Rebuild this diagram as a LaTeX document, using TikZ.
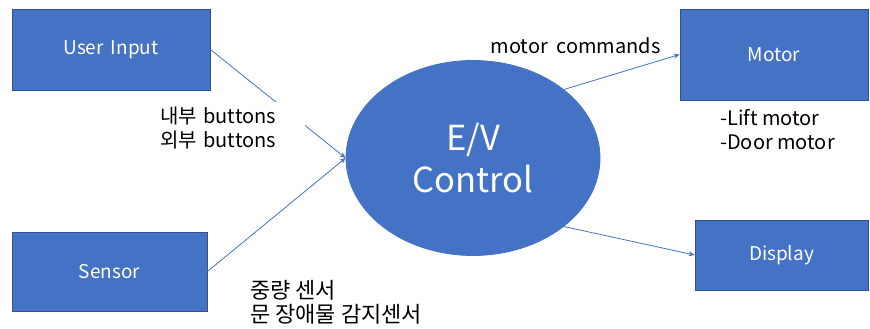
\documentclass[tikz,border=0pt]{standalone}
\usepackage{fontspec}
\setmainfont{Noto Sans CJK KR}
\usetikzlibrary{shapes.geometric,arrows.meta}
\definecolor{ofblue}{HTML}{4472C4}
\definecolor{ofedge}{HTML}{2F528F}
\tikzset{
  blockbox/.style={draw=ofedge, line width=0.8pt, fill=ofblue, text=white, inner sep=0pt},
  conn/.style={draw=ofblue, line width=0.8pt, -{Stealth[length=6pt,width=5pt]}},
  lbl/.style={text=black, inner sep=5pt, align=left},
}
\begin{document}
\begin{tikzpicture}[x=1pt,y=-1pt]
\useasboundingbox (0,0) rectangle (870,329);
\node[blockbox, minimum width=198pt, minimum height=81pt, font=\fontsize{19}{22}\selectfont] (ui) at (111,49.5) {User\hspace{0.15em} Input};
\node[blockbox, minimum width=195pt, minimum height=79pt, font=\fontsize{19}{22}\selectfont] (sensor) at (109.5,271.5) {Sensor};
\node[blockbox, draw=ofblue, ellipse, minimum width=254pt, minimum height=195pt, align=center, font=\fontsize{34.5}{42}\selectfont] (ctrl) at (473,158) {E/V\\Control};
\node[blockbox, minimum width=188pt, minimum height=91pt, font=\fontsize{19}{22}\selectfont] (motor) at (774,54.5) {Motor};
\node[blockbox, minimum width=173pt, minimum height=70pt, font=\fontsize{19}{22}\selectfont] (display) at (781.5,255) {Display};

\draw[conn] (ui.east) -- (ctrl.west);
\draw[conn] (sensor.east) -- (ctrl.west);
\draw[conn] (ctrl.37.5) -- (motor.west);
\draw[conn] (ctrl.-37.8) -- (display.west);

\node[lbl, fill=white, text width=140pt, font=\fontsize{20}{24}\selectfont] (btnlbl) at (230,128) {내부 buttons\\외부 buttons};
\node[lbl, font=\fontsize{20}{24}\selectfont] (cmdlbl) at (575.5,46) {motor\hspace{0.2em} commands};
\node[lbl, font=\fontsize{20}{24}\selectfont, anchor=west] (motlbl) at (715,130) {-Lift motor\\-Door motor};
\node[lbl, font=\fontsize{22}{24}\selectfont, anchor=west] (senslbl) at (245,302) {중량 센서\\문 장애물 감지센서};
\end{tikzpicture}
\end{document}
